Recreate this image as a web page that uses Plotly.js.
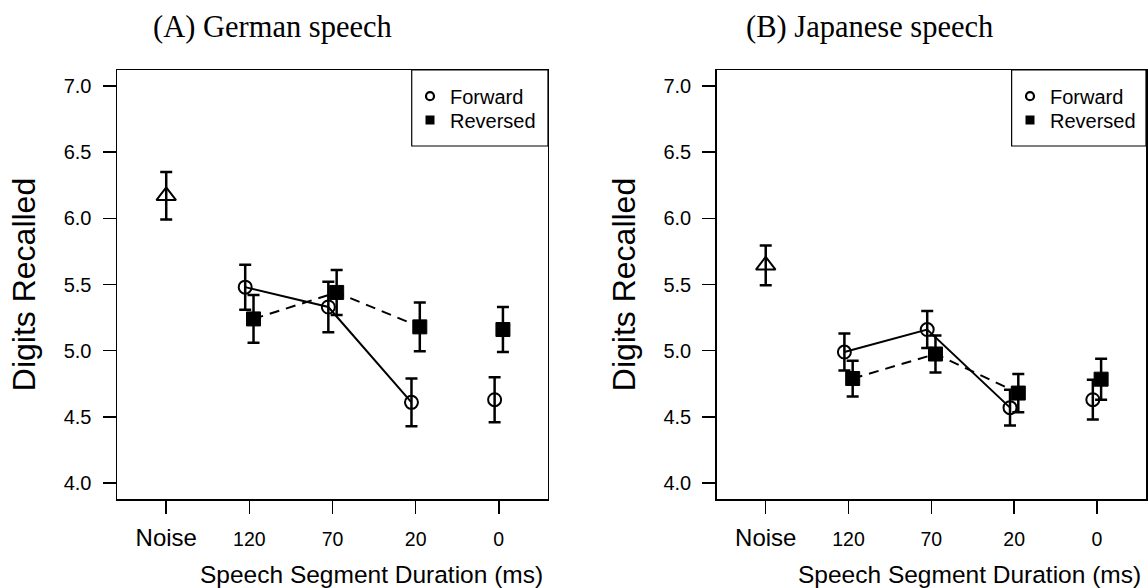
<!DOCTYPE html>
<html>
<head>
<meta charset="utf-8">
<script src="https://cdn.plot.ly/plotly-3.0.1.min.js"></script>
<style>html,body{margin:0;padding:0;background:#fff;}#chart{width:1148px;height:588px;}</style>
</head>
<body>
<div id="chart"></div>
<script>
// ---- data ----
const categories = ["Noise", "120", "70", "20", "0"];
const durations = ["120", "70", "20", "0"];

const germanNoiseMean = 6.17;
const germanNoiseErr = 0.18;
const germanForward = [5.48, 5.33, 4.61, 4.63];
const germanForwardErr = [0.17, 0.19, 0.18, 0.17];
const germanReversed = [5.24, 5.44, 5.18, 5.16];
const germanReversedErr = [0.18, 0.17, 0.185, 0.17];

const japaneseNoiseMean = 5.645;
const japaneseNoiseErr = 0.15;
const japaneseForward = [4.99, 5.16, 4.57, 4.63];
const japaneseForwardErr = [0.14, 0.14, 0.135, 0.15];
const japaneseReversed = [4.79, 4.975, 4.68, 4.785];
const japaneseReversedErr = [0.135, 0.14, 0.145, 0.155];

const yTicks = [4.0, 4.5, 5.0, 5.5, 6.0, 6.5, 7.0];

// ---- styling ----
const SANS = "Liberation Sans, Arial, Helvetica, sans-serif";
const SERIF = "Liberation Serif, Times New Roman, serif";
const dodge = 0.05;
const connected = 3; // 120, 70, 20 are joined by lines

const catPos = c => categories.indexOf(c) + 1;
const fwdX = durations.map(d => catPos(d) - dodge);
const revX = durations.map(d => catPos(d) + dodge);
const noiseX = [catPos("Noise")];

const errStyle = (arr) => ({type: "data", array: arr, visible: true, color: "#000", thickness: 2.5, width: 6});

function panelTraces(xa, ya, noiseMean, noiseErr, fwd, fwdErr, rev, revErr, legFwd, legRev) {
  return [
    {x: fwdX.slice(0, connected), y: fwd.slice(0, connected), xaxis: xa, yaxis: ya, mode: "lines",
     line: {color: "#000", width: 2}, showlegend: false, hoverinfo: "skip"},
    {x: revX.slice(0, connected), y: rev.slice(0, connected), xaxis: xa, yaxis: ya, mode: "lines",
     line: {color: "#000", width: 2, dash: "10px,7px"}, showlegend: false, hoverinfo: "skip"},
    {x: noiseX, y: [noiseMean], xaxis: xa, yaxis: ya, mode: "markers", showlegend: false,
     error_y: errStyle([noiseErr]),
     marker: {symbol: "triangle-up-open", size: 17, color: "#000", line: {color: "#000", width: 2}}},
    {x: fwdX, y: fwd, xaxis: xa, yaxis: ya, mode: "markers", showlegend: false, name: "Forward",
     error_y: errStyle(fwdErr),
     marker: {symbol: "circle-open", size: 13, color: "#000", line: {color: "#000", width: 2}}},
    {x: revX, y: rev, xaxis: xa, yaxis: ya, mode: "markers", showlegend: false, name: "Reversed",
     error_y: errStyle(revErr),
     marker: {symbol: "square", size: 14, color: "#000", line: {color: "#000", width: 1}}},
    // legend entries (no data points)
    {x: [null], y: [null], xaxis: xa, yaxis: ya, mode: "markers", name: "Forward", legend: legFwd,
     marker: {symbol: "circle-open", size: 8, color: "#000", line: {color: "#000", width: 2.2}}},
    {x: [null], y: [null], xaxis: xa, yaxis: ya, mode: "markers", name: "Reversed", legend: legRev,
     marker: {symbol: "square", size: 9, color: "#000", line: {width: 0}}}
  ];
}

const data = [].concat(
  panelTraces("x", "y", germanNoiseMean, germanNoiseErr, germanForward, germanForwardErr, germanReversed, germanReversedErr, "legend", "legend2"),
  panelTraces("x2", "y2", japaneseNoiseMean, japaneseNoiseErr, japaneseForward, japaneseForwardErr, japaneseReversed, japaneseReversedErr, "legend3", "legend4")
);

const tickText = categories.map(c => c === "Noise" ? '<span style="font-size:24px">' + c + '</span>' : c);

function xAxis(domain, anchor) {
  return {
    domain: domain, anchor: anchor, range: [0.408, 5.592],
    tickmode: "array", tickvals: categories.map(catPos), ticktext: tickText,
    ticks: "outside", ticklen: 13, tickwidth: 1.5, tickcolor: "#000",
    showline: true, mirror: true, linecolor: "#000", linewidth: 1.5,
    showgrid: false, zeroline: false, fixedrange: true,
    ticklabelstandoff: 9,
    tickfont: {family: SANS, size: 19.5, color: "#000"}
  };
}
function yAxis(anchor) {
  return {
    anchor: anchor, domain: [0, 1], range: [3.88, 7.12],
    tickmode: "array", tickvals: yTicks, tickformat: ".1f",
    ticks: "outside", ticklen: 13, tickwidth: 1.5, tickcolor: "#000",
    showline: true, mirror: true, linecolor: "#000", linewidth: 1.5,
    showgrid: false, zeroline: false, fixedrange: true,
    ticklabelstandoff: 7,
    tickfont: {family: SANS, size: 20, color: "#000"},
    title: {text: "Digits Recalled", font: {family: SANS, size: 32, color: "#000"}, standoff: 18}
  };
}

const legendBase = {
  font: {family: SANS, size: 20, color: "#000"},
  bgcolor: "rgba(0,0,0,0)", borderwidth: 0, itemsizing: "trace",
  xanchor: "left", yanchor: "top"
};
const legLeftX = (410 - 117) / 1029;
const legRightX = (1010 - 117) / 1029;
const row1Y = 0.9844, row2Y = 0.929;

const layout = {
  width: 1148, height: 588,
  margin: {l: 117, r: 2, t: 70, b: 89, pad: 0},
  paper_bgcolor: "#fff", plot_bgcolor: "#fff",
  font: {family: SANS, color: "#000"},
  showlegend: true,
  xaxis: xAxis([0, 0.41885], "y"),
  yaxis: yAxis("x"),
  xaxis2: xAxis([0.5828, 1], "y2"),
  yaxis2: yAxis("x2"),
  legend: Object.assign({}, legendBase, {x: legLeftX, y: row1Y}),
  legend2: Object.assign({}, legendBase, {x: legLeftX, y: row2Y}),
  legend3: Object.assign({}, legendBase, {x: legRightX, y: row1Y}),
  legend4: Object.assign({}, legendBase, {x: legRightX, y: row2Y}),
  shapes: [
    {type: "rect", xref: "x domain", yref: "y domain", x0: 0.6838, x1: 1, y0: 0.8228, y1: 1,
     line: {color: "#000", width: 1.2}, fillcolor: "rgba(0,0,0,0)"},
    {type: "rect", xref: "x2 domain", yref: "y2 domain", x0: 0.687, x1: 1, y0: 0.8228, y1: 1,
     line: {color: "#000", width: 1.2}, fillcolor: "rgba(0,0,0,0)"}
  ],
  annotations: [
    {text: "(A) German speech", xref: "x domain", yref: "y domain", x: 0.3608, y: 1.1,
     xanchor: "center", yanchor: "middle", showarrow: false, font: {family: SERIF, size: 30.5, color: "#000"}},
    {text: "(B) Japanese speech", xref: "x2 domain", yref: "y2 domain", x: 0.357, y: 1.1,
     xanchor: "center", yanchor: "middle", showarrow: false, font: {family: SERIF, size: 30.5, color: "#000"}},
    {text: "Speech Segment Duration (ms)", xref: "x domain", yref: "y domain", x: 0.993, y: -0.175,
     xanchor: "right", yanchor: "middle", showarrow: false, font: {family: SANS, size: 24.5, color: "#000"}},
    {text: "Speech Segment Duration (ms)", xref: "x2 domain", yref: "y2 domain", x: 0.993, y: -0.175,
     xanchor: "right", yanchor: "middle", showarrow: false, font: {family: SANS, size: 24.5, color: "#000"}}
  ]
};

Plotly.newPlot("chart", data, layout, {staticPlot: true, displayModeBar: false});
</script>
</body>
</html>
